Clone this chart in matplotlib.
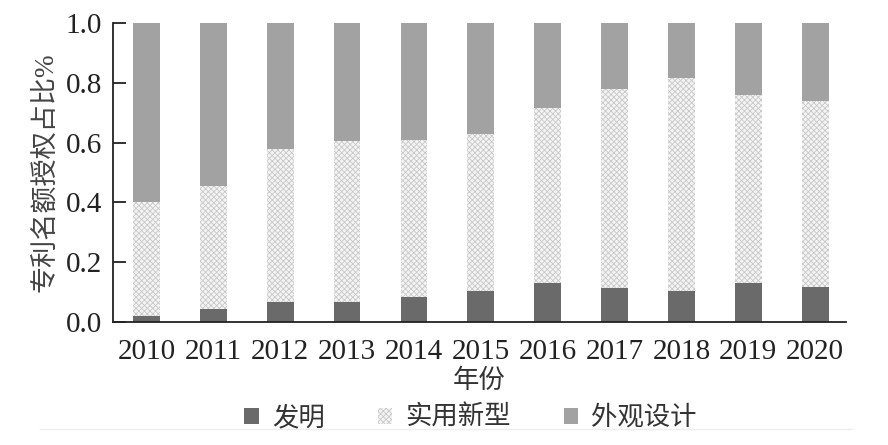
import numpy as np
import matplotlib
matplotlib.use("Agg")
import matplotlib.pyplot as plt
from matplotlib.lines import Line2D

plt.rcParams['font.family'] = ['Liberation Serif', 'Noto Sans CJK SC']
plt.rcParams['hatch.linewidth'] = 0.6

# 数据
years = ['2010', '2011', '2012', '2013', '2014', '2015', '2016', '2017', '2018', '2019', '2020']
invention = [0.02, 0.043, 0.068, 0.068, 0.083, 0.105, 0.13, 0.113, 0.105, 0.13, 0.118]
utility_top = [0.40, 0.455, 0.58, 0.605, 0.61, 0.63, 0.715, 0.78, 0.815, 0.76, 0.74]
utility = [u - i for u, i in zip(utility_top, invention)]
design = [1 - u for u in utility_top]
labels = ['发明', '实用新型', '外观设计']

fig = plt.figure(figsize=(8.88, 4.45), dpi=100)
ax = fig.add_axes([0.1273, 0.2764, 0.8254, 0.6719])

x = np.arange(len(years))
w = 0.4
b1 = ax.bar(x, invention, w, color='#6a6a6a', linewidth=0)
b2 = ax.bar(x, utility, w, bottom=invention, color='#f4f4f4',
            edgecolor='#c8c8c8', hatch='xxxxxx', linewidth=0)
b3 = ax.bar(x, design, w, bottom=utility_top, color='#a2a2a2', linewidth=0)

ax.set_xlim(-0.5, 10.46)
ax.set_ylim(0, 1.0)
ax.set_yticks([0, 0.2, 0.4, 0.6, 0.8, 1.0])
ax.set_yticklabels(['0.0', '0.2', '0.4', '0.6', '0.8', '1.0'])
ax.set_xticks(x)
ax.set_xticklabels(years)

# 边框
for s in ['top', 'right']:
    ax.spines[s].set_visible(False)
for s in ['left', 'bottom']:
    ax.spines[s].set_linewidth(1.3)
    ax.spines[s].set_color('#222222')

ax.tick_params(axis='y', direction='in', length=9, width=1.3, pad=8,
               labelsize=21, colors='#222222')
ax.tick_params(axis='x', length=0, pad=12, labelsize=21, colors='#222222')

ax.set_xlabel('年份', fontsize=19, color='#333333', labelpad=3)
ax.set_ylabel('专利名额授权占比%', fontsize=19.5, color='#444444', labelpad=5)

# 图例
handles = [b1[0], b2[0], b3[0]]
leg = fig.legend(handles, labels, loc='center', bbox_to_anchor=(0.53, 0.062),
                 ncol=3, frameon=False, fontsize=19, handlelength=0.55,
                 handleheight=0.55, handletextpad=0.5, columnspacing=2.0)
for t in leg.get_texts():
    t.set_color('#333333')

# 底部浅色线
fig.add_artist(Line2D([0.045, 0.96], [0.036, 0.036], color='#eeeeee', linewidth=1))

fig.savefig('out.png', dpi=100)
